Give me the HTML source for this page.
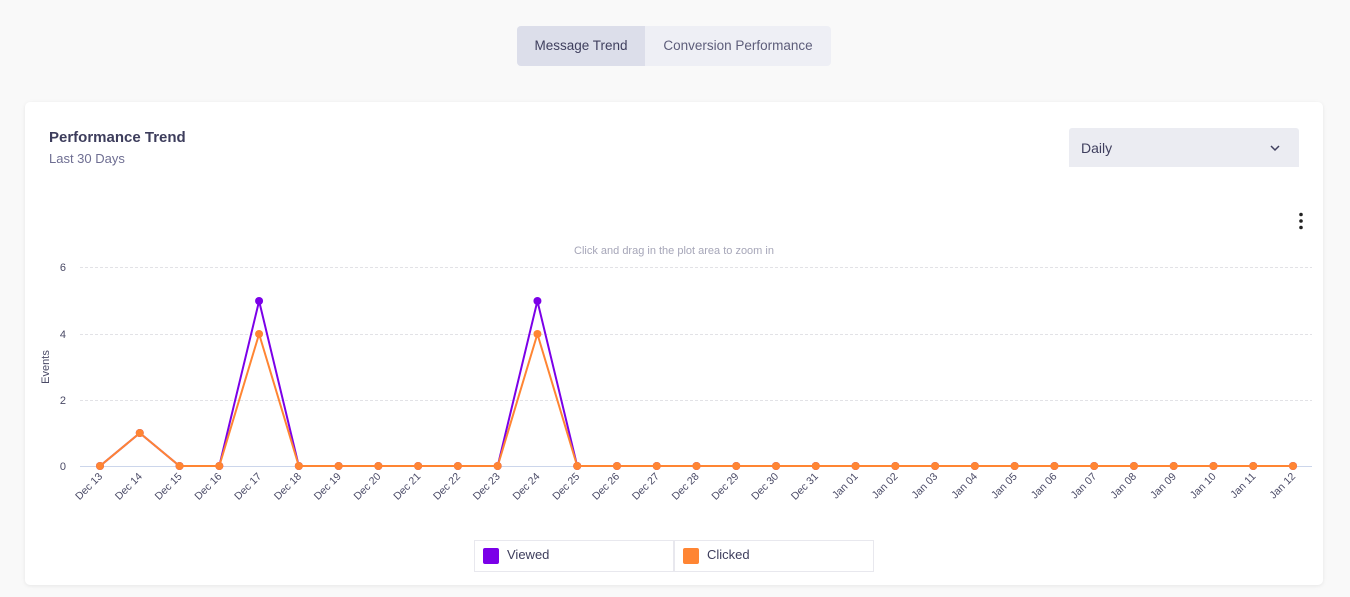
<!DOCTYPE html>
<html>
<head>
<meta charset="utf-8">
<style>
  html,body{margin:0;padding:0;}
  body{width:1350px;height:597px;background:#f9f9f9;font-family:"Liberation Sans",sans-serif;position:relative;overflow:hidden;}
  .tabs{position:absolute;left:517px;top:26px;width:314px;height:40px;background:#eeeff5;border-radius:4px;overflow:hidden;}
  .tab{position:absolute;top:0;height:40px;line-height:40px;font-size:13.5px;color:#4f4f6e;text-align:center;}
  .tab.active{left:0;width:128px;background:#dcdeea;color:#3f3f5e;}
  .tab.other{left:128px;width:186px;color:#5d5d7a;}
  .card{position:absolute;left:25px;top:102px;width:1298px;height:483px;background:#fff;border-radius:5px;box-shadow:0 1px 4px rgba(0,0,0,0.08);}
  .title{position:absolute;left:49px;top:129px;font-size:15px;font-weight:bold;color:#3d3d5c;}
  .sub{position:absolute;left:49px;top:151px;font-size:13px;color:#6e6e92;}
  .dd{position:absolute;left:1069px;top:128px;width:230px;height:39px;background:#ebecf2;border-radius:3px 3px 0 0;}
  .dd span{position:absolute;left:12px;top:12px;font-size:14px;color:#3f3f5e;}
  svg{position:absolute;left:0;top:0;}
</style>
</head>
<body>
<div class="tabs">
  <div class="tab active">Message Trend</div>
  <div class="tab other">Conversion Performance</div>
</div>
<div class="card"></div>
<div class="title">Performance Trend</div>
<div class="sub">Last 30 Days</div>
<div class="dd"><span>Daily</span></div>

<svg width="1350" height="597" viewBox="0 0 1350 597" xmlns="http://www.w3.org/2000/svg" font-family="Liberation Sans, sans-serif">
  <polyline points="1271,146 1275,150 1279,146" fill="none" stroke="#3f3f5e" stroke-width="1.5"/>
  <circle cx="1301" cy="214.5" r="1.8" fill="#222"/>
  <circle cx="1301" cy="221" r="1.8" fill="#222"/>
  <circle cx="1301" cy="227.5" r="1.8" fill="#222"/>
  <text x="674" y="254" font-size="11" fill="#a6a6b8" text-anchor="middle">Click and drag in the plot area to zoom in</text>
  <g stroke="#e2e2e6" stroke-width="1" stroke-dasharray="3,2">
    <line x1="80" y1="267.5" x2="1312" y2="267.5"/>
    <line x1="80" y1="334.5" x2="1312" y2="334.5"/>
    <line x1="80" y1="400.5" x2="1312" y2="400.5"/>
  </g>
  <line x1="80" y1="466.5" x2="1312" y2="466.5" stroke="#ccd6eb" stroke-width="1"/>
  <g font-size="11" fill="#4a4a66" text-anchor="end">
    <text x="66" y="271">6</text>
    <text x="66" y="338">4</text>
    <text x="66" y="404">2</text>
    <text x="66" y="470">0</text>
  </g>
  <text transform="translate(49,367) rotate(-90)" font-size="11" fill="#4a4a66" text-anchor="middle">Events</text>
  <g id="chart"></g>
  <rect x="474.5" y="540.5" width="199" height="31" fill="#fff" stroke="#e8e8ee"/>
  <rect x="674.5" y="540.5" width="199" height="31" fill="#fff" stroke="#e8e8ee"/>
  <rect x="483" y="548" width="16" height="16" rx="2" fill="#7b00e8"/>
  <rect x="683" y="548" width="16" height="16" rx="2" fill="#ff8533"/>
  <text x="507" y="559" font-size="13" fill="#3d3d5c">Viewed</text>
  <text x="707" y="559" font-size="13" fill="#3d3d5c">Clicked</text>
</svg>
<script>
(function(){
  var labels=[];
  for(var d=13;d<=31;d++)labels.push("Dec "+d);
  for(var j=1;j<=12;j++)labels.push("Jan "+(j<10?"0"+j:j));
  var viewed=[],clicked=[];
  for(var i=0;i<31;i++){viewed.push(0);clicked.push(0);}
  viewed[1]=1;clicked[1]=1;viewed[4]=5;clicked[4]=4;viewed[11]=5;clicked[11]=4;
  var g=document.getElementById("chart");
  var ns="http://www.w3.org/2000/svg";
  function X(i){return 100+i*(1193/30);}
  function Y(v){return 466-33*v;}
  function series(data,color){
    var pts=data.map(function(v,i){return X(i).toFixed(1)+","+Y(v).toFixed(1);}).join(" ");
    var pl=document.createElementNS(ns,"polyline");
    pl.setAttribute("points",pts);pl.setAttribute("fill","none");pl.setAttribute("stroke",color);
    pl.setAttribute("stroke-width","2");pl.setAttribute("stroke-linejoin","round");
    g.appendChild(pl);
    data.forEach(function(v,i){
      var c=document.createElementNS(ns,"circle");
      c.setAttribute("cx",X(i));c.setAttribute("cy",Y(v));c.setAttribute("r","4");c.setAttribute("fill",color);
      g.appendChild(c);
    });
  }
  series(viewed,"#7b00e8");
  series(clicked,"#ff8533");
  labels.forEach(function(l,i){
    var t=document.createElementNS(ns,"text");
    var x=X(i)+3,y=477;
    t.setAttribute("transform","translate("+x+","+y+") rotate(-45)");
    t.setAttribute("text-anchor","end");t.setAttribute("font-size","10.5");t.setAttribute("fill","#4a4a66");
    t.textContent=l;g.appendChild(t);
  });
})();
</script>
</body>
</html>
